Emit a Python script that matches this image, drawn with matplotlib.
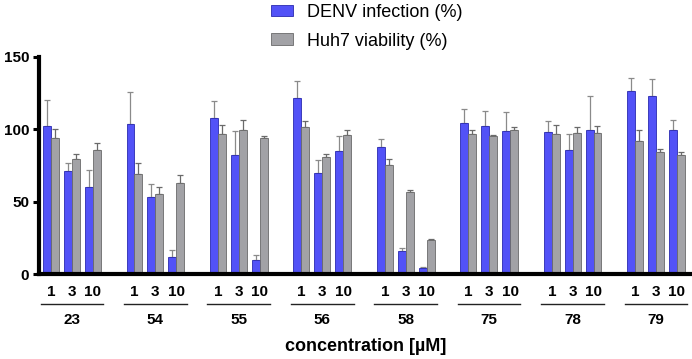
import matplotlib
matplotlib.use('Agg')
import matplotlib.pyplot as plt
from matplotlib.patches import Patch
from matplotlib.transforms import blended_transform_factory
import numpy as np

plt.rcParams['font.family'] = ['Liberation Sans', 'DejaVu Sans']

compounds = ['23', '54', '55', '56', '58', '75', '78', '79']
conc = ['1', '3', '10']
# DENV infection (%) per compound, 1 / 3 / 10 uM
denv = [[102.3, 71.4, 60.1], [103.5, 53.2, 11.8], [107.8, 82.3, 9.4], [121.7, 70.1, 84.8],
        [88.0, 15.9, 3.9], [104.4, 102.3, 99.1], [98.2, 85.7, 99.3], [126.5, 123.0, 99.3]]
denv_err = [[17.7, 5.1, 11.8], [22.1, 8.8, 4.6], [11.5, 16.5, 3.5], [11.5, 8.5, 10.6],
            [5.1, 2.0, 0.7], [9.4, 10.4, 12.9], [7.6, 10.9, 23.7], [8.8, 11.6, 6.9]]
# Huh7 viability (%)
viab = [[93.8, 79.3, 85.7], [68.9, 55.3, 62.7], [96.8, 99.5, 93.8], [101.6, 80.9, 95.9],
        [75.6, 56.7, 23.5], [96.8, 95.4, 99.3], [96.8, 97.5, 97.5], [91.9, 84.3, 82.3]]
viab_err = [[6.2, 3.4, 4.6], [7.6, 4.7, 5.5], [6.0, 6.7, 1.4], [4.2, 2.0, 3.6],
            [3.9, 1.4, 0.5], [2.7, 0.5, 2.5], [6.2, 3.9, 4.6], [7.6, 2.1, 2.0]]

blue = '#5252F7'
gray = '#A2A2A6'

fig = plt.figure(figsize=(6.92, 3.59), dpi=100)
ax = fig.add_axes([39/692, 85/359, 653/692, 217/359])

pos = np.array([g*4 + j for g in range(len(compounds)) for j in range(3)], dtype=float)
d = np.array(denv).ravel()
de = np.array(denv_err).ravel()
v = np.array(viab).ravel()
ve = np.array(viab_err).ravel()
w = 0.38

ax.bar(pos - w/2, d, width=w, color=blue, edgecolor='#2a2ab0', linewidth=0.6, zorder=2)
ax.bar(pos + w/2, v, width=w, color=gray, edgecolor='#6a6a6a', linewidth=0.6, zorder=2)
ax.errorbar(pos - w/2, d, yerr=[np.zeros_like(de), de], fmt='none', ecolor='#8a8a8a',
            elinewidth=0.9, capsize=2, capthick=0.9, zorder=1)
ax.errorbar(pos + w/2, v, yerr=[np.zeros_like(ve), ve], fmt='none', ecolor='#6a6a6a',
            elinewidth=0.9, capsize=2, capthick=0.9, zorder=1)

ax.set_xlim(-0.575, 30.72)
ax.set_ylim(0, 150)
ax.set_yticks([0, 50, 100, 150])
ax.set_yticklabels(['0', '50', '100', '150'], fontsize=11, fontweight='bold')
ax.tick_params(axis='y', length=4.5, width=2.2, pad=2.5)
ax.set_xticks([])
for s in ['top', 'right']:
    ax.spines[s].set_visible(False)
ax.spines['left'].set_linewidth(3)
ax.spines['bottom'].set_linewidth(3)

tr = blended_transform_factory(ax.transData, ax.transAxes)
for g, name in enumerate(compounds):
    for j, c in enumerate(conc):
        ax.text(g*4 + j, -0.083, c, transform=tr, ha='center', va='center',
                fontsize=11, fontweight='bold')
    ax.plot([g*4 - 0.5, g*4 + 2.5], [-0.140, -0.140], transform=tr, color='#222222',
            lw=1, clip_on=False)
    ax.text(g*4 + 1, -0.210, name, transform=tr, ha='center', va='center',
            fontsize=11, fontweight='bold')

ax.text(0.5, -0.336, 'concentration [µM]', transform=ax.transAxes, ha='center',
        va='center', fontsize=13, fontweight='bold')

handles = [Patch(facecolor=blue, edgecolor='#2a2ab0', linewidth=0.6),
           Patch(facecolor=gray, edgecolor='#6a6a6a', linewidth=0.6)]
fig.legend(handles, ['DENV infection (%)', 'Huh7 viability (%)'], loc='upper left',
           bbox_to_anchor=(271/692, 1 - 4/359), frameon=False, fontsize=13,
           borderpad=0, borderaxespad=0, handlelength=1.22, handleheight=0.61,
           labelspacing=0.64, handletextpad=0.78)

fig.savefig('out.png', dpi=100)
